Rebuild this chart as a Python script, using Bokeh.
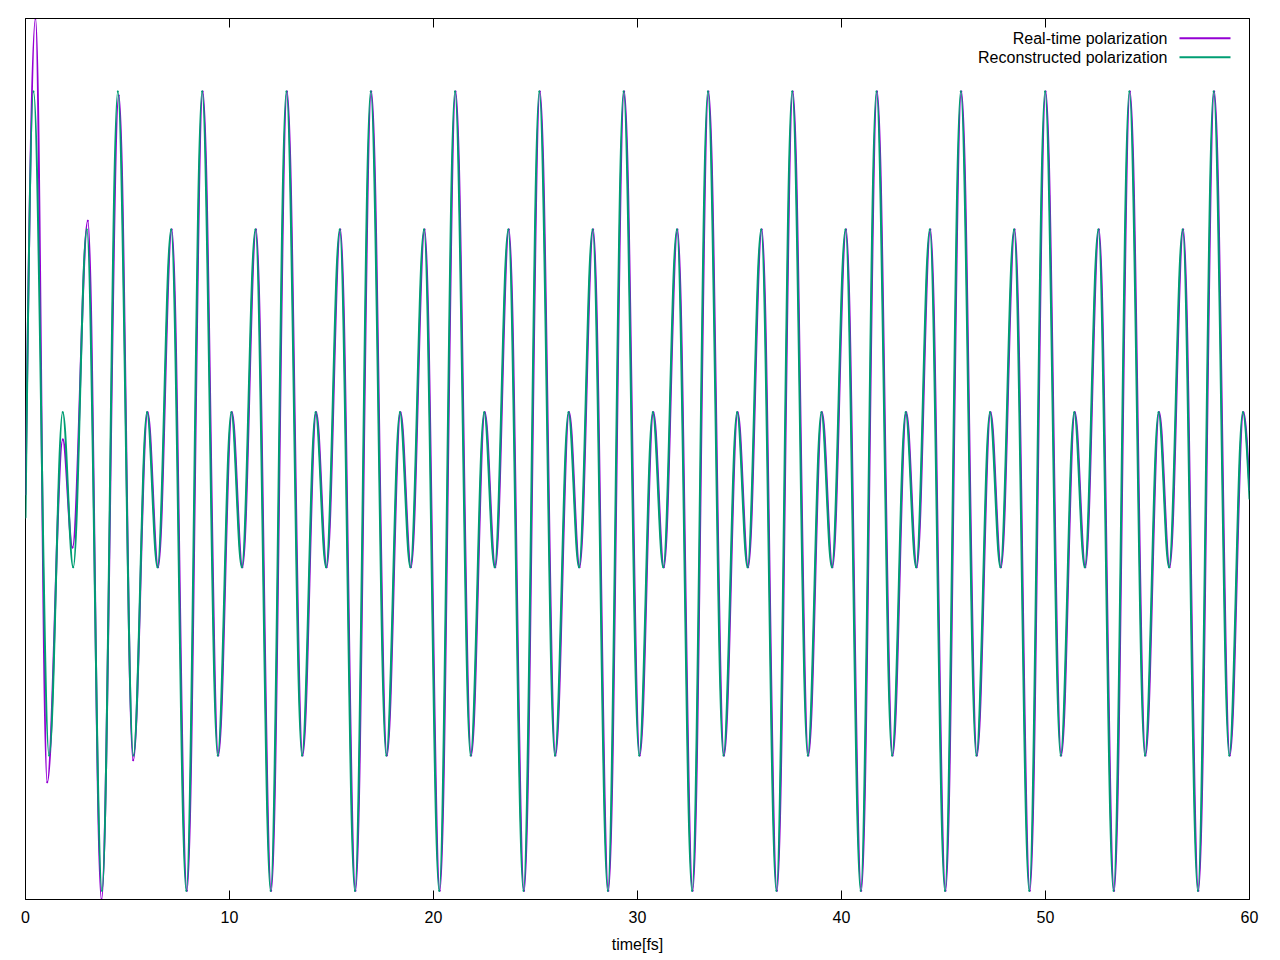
import numpy as np
from bokeh.plotting import figure
from bokeh.models import Range1d, LinearAxis, Label, BoxAnnotation, FixedTicker, ColumnDataSource
from bokeh.embed import file_html
from bokeh.resources import INLINE

# ---- data (time in fs, polarization in arbitrary units) ----
# each series is given by its turning points (peaks / troughs) plus start and end samples
x_ticks = [0, 10, 20, 30, 40, 50, 60]

realtime_t = [0.0, 0.490, 1.064, 1.828, 2.304, 3.054, 3.725,
              4.574, 5.279, 5.986, 6.501, 7.168, 7.913,
              8.687, 9.452, 10.118, 10.633, 11.300, 12.045,
              12.819, 13.584, 14.250, 14.765, 15.432, 16.177,
              16.951, 17.716, 18.382, 18.897, 19.564, 20.309,
              21.083, 21.848, 22.514, 23.029, 23.696, 24.441,
              25.215, 25.980, 26.646, 27.161, 27.828, 28.573,
              29.347, 30.112, 30.778, 31.293, 31.960, 32.705,
              33.479, 34.244, 34.910, 35.425, 36.092, 36.837,
              37.611, 38.376, 39.042, 39.557, 40.224, 40.969,
              41.743, 42.508, 43.174, 43.689, 44.356, 45.101,
              45.875, 46.640, 47.306, 47.821, 48.488, 49.233,
              50.007, 50.772, 51.438, 51.953, 52.620, 53.365,
              54.139, 54.904, 55.570, 56.085, 56.752, 57.497,
              58.271, 59.036, 59.702, 60.0]
realtime_p = [-0.080, 1.000, -0.734, 0.044, -0.201, 0.541, -1.000,
              0.825, -0.684, 0.106, -0.246, 0.521, -0.980,
              0.834, -0.673, 0.106, -0.246, 0.521, -0.980,
              0.834, -0.673, 0.106, -0.246, 0.521, -0.980,
              0.834, -0.673, 0.106, -0.246, 0.521, -0.980,
              0.834, -0.673, 0.106, -0.246, 0.521, -0.980,
              0.834, -0.673, 0.106, -0.246, 0.521, -0.980,
              0.834, -0.673, 0.106, -0.246, 0.521, -0.980,
              0.834, -0.673, 0.106, -0.246, 0.521, -0.980,
              0.834, -0.673, 0.106, -0.246, 0.521, -0.980,
              0.834, -0.673, 0.106, -0.246, 0.521, -0.980,
              0.834, -0.673, 0.106, -0.246, 0.521, -0.980,
              0.834, -0.673, 0.106, -0.246, 0.521, -0.980,
              0.834, -0.673, 0.106, -0.246, 0.521, -0.980,
              0.834, -0.673, 0.106, -0.070]

recon_t = [0.0, 0.393, 1.158, 1.824, 2.339, 3.006, 3.751,
           4.525, 5.290, 5.956, 6.471, 7.138, 7.883,
           8.657, 9.422, 10.088, 10.603, 11.270, 12.015,
           12.789, 13.554, 14.220, 14.735, 15.402, 16.147,
           16.921, 17.686, 18.352, 18.867, 19.534, 20.279,
           21.053, 21.818, 22.484, 22.999, 23.666, 24.411,
           25.185, 25.950, 26.616, 27.131, 27.798, 28.543,
           29.317, 30.082, 30.748, 31.263, 31.930, 32.675,
           33.449, 34.214, 34.880, 35.395, 36.062, 36.807,
           37.581, 38.346, 39.012, 39.527, 40.194, 40.939,
           41.713, 42.478, 43.144, 43.659, 44.326, 45.071,
           45.845, 46.610, 47.276, 47.791, 48.458, 49.203,
           49.977, 50.742, 51.408, 51.923, 52.590, 53.335,
           54.109, 54.874, 55.540, 56.055, 56.722, 57.467,
           58.241, 59.006, 59.672, 60.0]
recon_p = [-0.133, 0.834, -0.673, 0.106, -0.246, 0.521, -0.980,
           0.834, -0.673, 0.106, -0.246, 0.521, -0.980,
           0.834, -0.673, 0.106, -0.246, 0.521, -0.980,
           0.834, -0.673, 0.106, -0.246, 0.521, -0.980,
           0.834, -0.673, 0.106, -0.246, 0.521, -0.980,
           0.834, -0.673, 0.106, -0.246, 0.521, -0.980,
           0.834, -0.673, 0.106, -0.246, 0.521, -0.980,
           0.834, -0.673, 0.106, -0.246, 0.521, -0.980,
           0.834, -0.673, 0.106, -0.246, 0.521, -0.980,
           0.834, -0.673, 0.106, -0.246, 0.521, -0.980,
           0.834, -0.673, 0.106, -0.246, 0.521, -0.980,
           0.834, -0.673, 0.106, -0.246, 0.521, -0.980,
           0.834, -0.673, 0.106, -0.246, 0.521, -0.980,
           0.834, -0.673, 0.106, -0.246, 0.521, -0.980,
           0.834, -0.673, 0.106, -0.090]

series_names = ["Real-time polarization", "Reconstructed polarization"]
series_colors = ["#9400D3", "#009E73"]

FONT = "Liberation Sans"


def smooth_segments(t, v):
    """Cubic Bezier pieces through the turning points (flat tangent at each peak/trough)."""
    t = np.asarray(t, float)
    v = np.asarray(v, float)
    x0, x1 = t[:-1], t[1:]
    y0, y1 = v[:-1], v[1:]
    dx = x1 - x0
    k = 0.3634
    cx0 = x0 + k * dx
    cy0 = y0.copy()
    cx1 = x1 - k * dx
    cy1 = y1.copy()
    # first piece starts mid-swing (not a turning point)
    cx0[0] = x0[0] + dx[0] / 3.0
    cy0[0] = y0[0] + 0.524 * (y1[0] - y0[0])
    cx1[0] = x0[0] + 2.0 * dx[0] / 3.0
    # last piece ends mid-swing
    cx0[-1] = x0[-1] + dx[-1] / 3.0
    cx1[-1] = x0[-1] + 2.0 * dx[-1] / 3.0
    cy1[-1] = y0[-1] + 0.476 * (y1[-1] - y0[-1])
    return ColumnDataSource(dict(x0=x0, y0=y0, x1=x1, y1=y1,
                                 cx0=cx0, cy0=cy0, cx1=cx1, cy1=cy1))


p = figure(frame_width=1224, frame_height=881,
           x_range=Range1d(0, 60), y_range=Range1d(-1, 1),
           y_axis_location=None, toolbar_location=None,
           output_backend="svg",
           min_border_left=25, min_border_right=31,
           min_border_top=18, min_border_bottom=10)
p.background_fill_color = "white"
p.border_fill_color = "white"
p.grid.visible = False
p.outline_line_color = "black"
p.outline_line_width = 1
p.outline_line_alpha = 1.0

for tt, vv, col in [(realtime_t, realtime_p, series_colors[0]),
                    (recon_t, recon_p, series_colors[1])]:
    src = smooth_segments(tt, vv)
    p.bezier(x0="x0", y0="y0", x1="x1", y1="y1",
             cx0="cx0", cy0="cy0", cx1="cx1", cy1="cy1",
             source=src, line_color=col, line_width=2, line_cap="round")

ax = p.xaxis[0]
ax.ticker = FixedTicker(ticks=x_ticks)
ax.major_tick_in = 9
ax.major_tick_out = 0
ax.minor_tick_in = 0
ax.minor_tick_out = 0
ax.axis_line_color = "black"
ax.major_tick_line_color = "black"
ax.major_label_text_font = FONT
ax.major_label_text_font_size = "16px"
ax.major_label_text_color = "black"
ax.major_label_standoff = 11
ax.axis_label = "time[fs]"
ax.axis_label_text_font = FONT
ax.axis_label_text_font_size = "16px"
ax.axis_label_text_font_style = "normal"
ax.axis_label_text_color = "black"
ax.axis_label_standoff = 10

top = LinearAxis(ticker=FixedTicker(ticks=x_ticks),
                 major_tick_in=9, major_tick_out=0,
                 minor_tick_in=0, minor_tick_out=0,
                 major_label_text_color=None,
                 major_label_text_font_size="12px",
                 major_label_standoff=0,
                 axis_line_color="black", major_tick_line_color="black")
p.add_layout(top, "above")

# legend (gnuplot style: right-aligned text, sample line to the right)
rows_y = [861.3, 842.3]
for name, col, yy in zip(series_names, series_colors, rows_y):
    p.add_layout(Label(x=1142, y=yy, x_units="screen", y_units="screen",
                       text=name, text_align="right", text_baseline="middle",
                       text_font=FONT, text_font_size="16px", text_color="black"))
    p.add_layout(BoxAnnotation(left=1154, right=1205, bottom=yy - 1, top=yy + 1,
                               left_units="screen", right_units="screen",
                               bottom_units="screen", top_units="screen",
                               fill_color=col, fill_alpha=1.0,
                               line_color=None))

open("out.html", "w").write(file_html(p, INLINE))
